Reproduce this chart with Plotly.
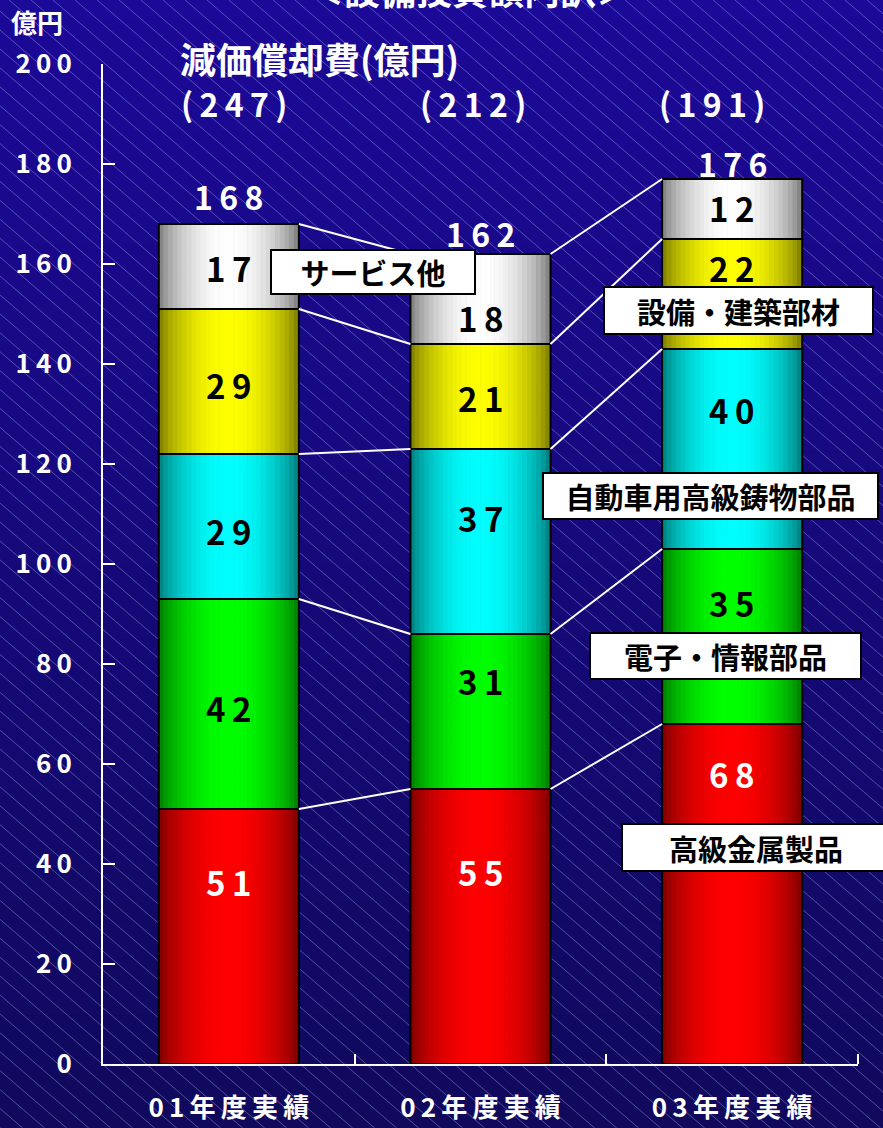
import plotly.graph_objects as go
import numpy as np

# ---------------- data ----------------
categories = ["01年度実績", "02年度実績", "03年度実績"]
series_names = ["高級金属製品", "電子・情報部品", "自動車用高級鋳物部品", "設備・建築部材", "サービス他"]
metal = [51, 55, 68]
electronic = [42, 31, 35]
auto_parts = [29, 37, 40]
building = [29, 21, 22]
service = [17, 18, 12]
totals = [168, 162, 176]
depreciation = [247, 212, 191]
y_tick_values = list(range(0, 201, 20))

series_values = [metal, electronic, auto_parts, building, service]

# ---------------- styles / positions ----------------
W, H = 883, 1128
FONT = "Noto Sans CJK JP"
seg_colors = [(255, 0, 0), (0, 255, 0), (0, 255, 255), (255, 255, 0), (255, 255, 255)]
seg_text_colors = ["white", "black", "black", "black", "black"]
# label anchor heights (axis units) for each segment label, per category
label_y = [
    [36.4, 38.4, 58.0],
    [71.2, 76.6, 92.2],
    [106.6, 109.2, 130.8],
    [135.8, 133.2, 159.2],
    [159.2, 149.2, 171.2],
]
total_label_y = [173.6, 166.2, 180.2]
BW = 0.5567
N_SLICES = 30


def spaced(s, sep="\u2009"):
    return sep.join(str(s))


def pxx(x):
    return x / W


def pxy(y):
    return 1 - y / H


xs = list(range(len(categories)))

fig = go.Figure()

# cumulative bases
bases = []
cum = [0] * len(categories)
for vals in series_values:
    bases.append(cum[:])
    cum = [c + v for c, v in zip(cum, vals)]

# gradient bars drawn as thin slices
sw = BW / N_SLICES
for j, vals in enumerate(series_values):
    r, g, b = seg_colors[j]
    for k in range(N_SLICES):
        t = (k + 0.5) / N_SLICES
        f = 0.46 + 0.54 * np.sin(np.pi * t) ** 0.7
        col = f"rgb({int(r*f)},{int(g*f)},{int(b*f)})"
        off = -BW / 2 + (k + 0.5) * sw
        fig.add_trace(go.Bar(
            x=[x + off for x in xs], y=vals, base=bases[j], width=sw * 1.15,
            marker=dict(color=col, line=dict(width=0)),
            hoverinfo="skip", showlegend=False, xaxis="x", yaxis="y"))

# outlines
for j, vals in enumerate(series_values):
    fig.add_trace(go.Bar(
        x=xs, y=vals, base=bases[j], width=BW, name=series_names[j],
        marker=dict(color="rgba(0,0,0,0)", line=dict(color="black", width=2)),
        hoverinfo="skip", showlegend=False, xaxis="x", yaxis="y"))

# connector lines between bars
bounds = [[bases[j][i] + series_values[j][i] for i in xs] for j in range(len(series_values))]
for j in range(len(series_values)):
    lx, ly = [], []
    for i in range(len(xs) - 1):
        lx += [xs[i] + BW / 2, xs[i + 1] - BW / 2, None]
        ly += [bounds[j][i], bounds[j][i + 1], None]
    fig.add_trace(go.Scatter(x=lx, y=ly, mode="lines",
                             line=dict(color="white", width=2),
                             hoverinfo="skip", showlegend=False, xaxis="x", yaxis="y"))

shapes = []
# background vertical gradient
NB = 60
top_c = np.array([28, 10, 152])
bot_c = np.array([16, 9, 92])
for k in range(NB):
    c = top_c + (bot_c - top_c) * (k + 0.5) / NB
    shapes.append(dict(type="rect", xref="paper", yref="paper", layer="below",
                       x0=0, x1=1, y0=1 - (k + 1) / NB - 0.002, y1=1 - k / NB,
                       fillcolor=f"rgb({int(c[0])},{int(c[1])},{int(c[2])})",
                       line=dict(width=0)))
# hatch lines
slope = 0.86
dx = H / slope
for x0 in range(-int(dx) - 22, W + 22, 22):
    shapes.append(dict(type="line", xref="paper", yref="paper", layer="below",
                       x0=pxx(x0), y0=pxy(0), x1=pxx(x0 + dx), y1=pxy(H),
                       line=dict(color="rgba(190,190,255,0.38)", width=1)))

annotations = []


def ann(**kw):
    kw.setdefault("showarrow", False)
    kw.setdefault("xanchor", "center")
    kw.setdefault("yanchor", "middle")
    annotations.append(kw)


# segment value labels
for j, vals in enumerate(series_values):
    for i in xs:
        ann(x=i, y=label_y[j][i], xref="x", yref="y", text=spaced(vals[i]),
            font=dict(family=FONT, size=33, color=seg_text_colors[j], weight="bold"))
# totals
for i in xs:
    ann(x=i, y=total_label_y[i], xref="x", yref="y", text=spaced(totals[i]),
        font=dict(family=FONT, size=32, color="white", weight="bold"))
# depreciation
dep_x = [234, 473, 712]
for i in xs:
    ann(x=pxx(dep_x[i]), y=pxy(103), xref="paper", yref="paper",
        text="(\u2009" + spaced(depreciation[i]) + "\u2009)",
        font=dict(family=FONT, size=32, color="white", weight="bold"))
ann(x=pxx(178), y=pxy(58), xref="paper", yref="paper", xanchor="left",
    text="減価償却費(億円)",
    font=dict(family=FONT, size=36, color="white", weight="bold"))
ann(x=pxx(37), y=pxy(22), xref="paper", yref="paper", text="億円",
    font=dict(family=FONT, size=26, color="white", weight="bold"))
ann(x=pxx(470), y=pxy(-11), xref="paper", yref="paper", text="＜設備投資額内訳＞",
    font=dict(family=FONT, size=36, color="white", weight="bold"))

# series name callout boxes
box_geo = [  # (center x, center y, width, height) in px
    (756, 847, 270, 49),
    (725, 656, 273, 48),
    (710, 496, 337, 48),
    (738, 310, 271, 49),
    (373, 272, 206, 46),
]
for j, (cx, cy, bw, bh) in enumerate(box_geo):
    ann(x=pxx(cx), y=pxy(cy), xref="paper", yref="paper", text=series_names[j],
        width=bw - 4, height=bh - 4, borderpad=0,
        bgcolor="white", bordercolor="black", borderwidth=2,
        font=dict(family=FONT, size=29, color="black", weight="bold"))

fig.update_layout(
    width=W, height=H,
    margin=dict(l=0, r=0, t=0, b=0, autoexpand=False),
    paper_bgcolor="rgb(16,9,92)",
    plot_bgcolor="rgba(0,0,0,0)",
    barmode="overlay",
    showlegend=False,
    shapes=shapes,
    annotations=annotations,
    xaxis=dict(domain=[103 / W, 858 / W], range=[-0.5, 2.5],
               tickvals=xs, ticktext=[spaced(c) for c in categories],
               ticks="", showgrid=False, zeroline=False,
               showline=True, linecolor="white", linewidth=2,
               ticklabelstandoff=20,
               tickfont=dict(family=FONT, size=26, color="white", weight="bold"),
               minor=dict(tickmode="array", tickvals=[0.5, 1.5, 2.5], ticks="inside",
                          ticklen=10, tickwidth=2, tickcolor="white"),
               fixedrange=True),
    yaxis=dict(domain=[(H - 1064) / H, (H - 64) / H], range=[0, 200],
               tickvals=y_tick_values, ticktext=[spaced(v) for v in y_tick_values],
               ticks="inside", ticklen=12, tickwidth=2, tickcolor="white",
               showgrid=False, zeroline=False,
               showline=True, linecolor="white", linewidth=2,
               ticklabelstandoff=24,
               tickfont=dict(family=FONT, size=26, color="white", weight="bold"),
               fixedrange=True),
)

fig.write_html("out.html", config={"displayModeBar": False},
               post_script="document.body.style.margin='0px';document.body.style.overflow='hidden';")
